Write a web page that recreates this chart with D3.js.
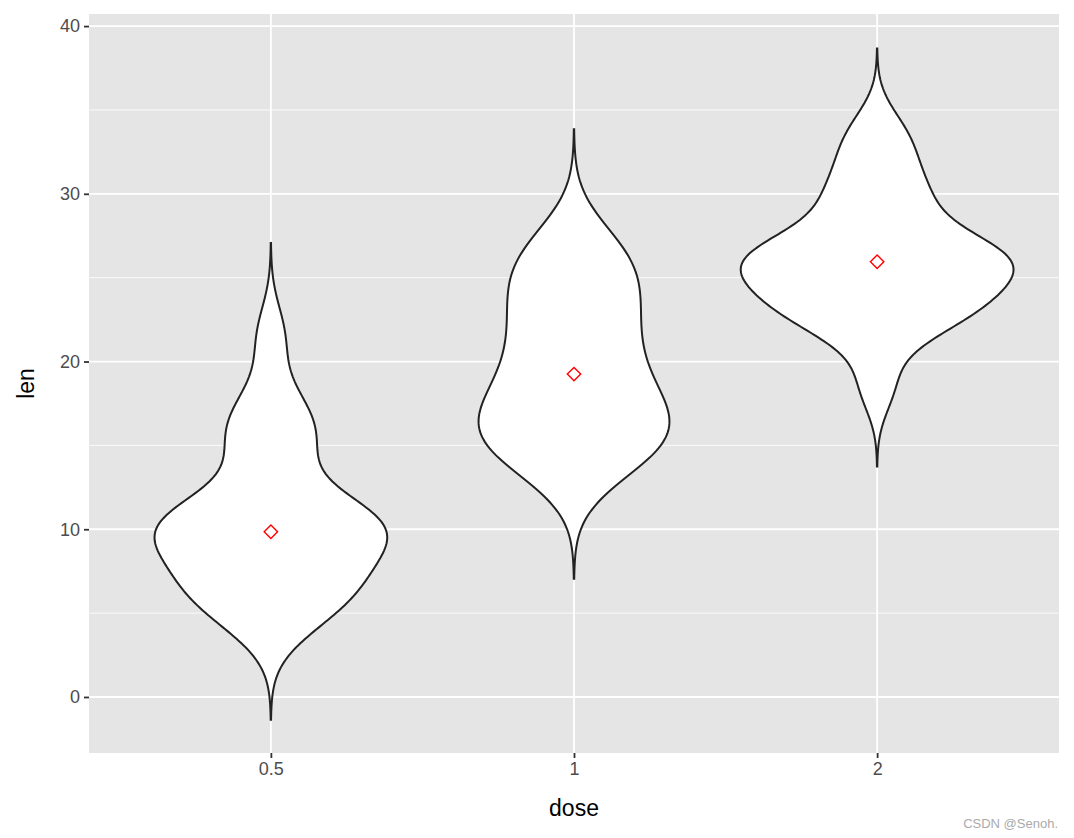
<!DOCTYPE html>
<html><head><meta charset="utf-8">
<script src="https://cdn.jsdelivr.net/npm/d3@7"></script>
<style>body{margin:0;background:#fff}</style>
</head><body><div id="chart"></div>
<script>
// ToothGrowth len values, grouped by dose
const doses = ["0.5", "1", "2"];
const len05 = [4.2, 11.5, 7.3, 5.8, 6.4, 10, 11.2, 11.2, 5.2, 7, 15.2, 21.5, 17.6, 9.7, 14.5, 10, 8.2, 9.4, 16.5, 9.7];
const len1 = [16.5, 16.5, 15.2, 17.3, 22.5, 17.3, 13.6, 14.5, 18.8, 15.5, 19.7, 23.3, 23.6, 26.4, 20, 25.2, 25.8, 21.2, 14.5, 27.3];
const len2 = [23.6, 18.5, 33.9, 25.5, 26.4, 32.5, 26.7, 21.5, 23.3, 29.5, 25.5, 26.4, 22.4, 24.5, 24.8, 30.9, 26.4, 27.3, 29.4, 23];
const yTicks = [0, 10, 20, 30, 40];

const svgWidth = 1074, svgHeight = 838;
const margin = {top: 14, right: 15, bottom: 85, left: 89};
const width = svgWidth - margin.left - margin.right;
const height = svgHeight - margin.top - margin.bottom;

const svg = d3.select("#chart").append("svg")
  .attr("width", svgWidth).attr("height", svgHeight)
  .style("font-family", "Liberation Sans, Arial, sans-serif");
const g = svg.append("g").attr("transform", `translate(${margin.left},${margin.top})`);

const x = d3.scalePoint().domain(doses).range([0, width]).padding(0.6);
const y = d3.scaleLinear().domain([-3.34, 40.72]).range([height, 0]);

// panel
g.append("rect").attr("width", width).attr("height", height).attr("fill", "#e5e5e5");
d3.range(-5, 41, 5).filter(v => v % 10 !== 0).forEach(v => {
  if (y(v) < 0 || y(v) > height) return;
  g.append("line").attr("x1", 0).attr("x2", width).attr("y1", y(v)).attr("y2", y(v))
    .attr("stroke", "#fff").attr("stroke-width", 0.8);
});
yTicks.forEach(v => g.append("line").attr("x1", 0).attr("x2", width).attr("y1", y(v)).attr("y2", y(v))
  .attr("stroke", "#fff").attr("stroke-width", 1.8));
doses.forEach(d => g.append("line").attr("x1", x(d)).attr("x2", x(d)).attr("y1", 0).attr("y2", height)
  .attr("stroke", "#fff").attr("stroke-width", 1.8));

// kernel density (gaussian, bw.nrd0, cut = 3)
function kde(vals) {
  const n = vals.length;
  const s = d3.sort(vals);
  const sd = d3.deviation(s);
  const iqr = d3.quantile(s, 0.75) - d3.quantile(s, 0.25);
  const bw = 0.9 * Math.min(sd, iqr / 1.34) * Math.pow(n, -0.2);
  const lo = d3.min(s) - 3 * bw, hi = d3.max(s) + 3 * bw;
  return d3.range(0, 201).map(i => {
    const t = lo + (hi - lo) * i / 200;
    const dens = d3.sum(s, v => Math.exp(-0.5 * ((t - v) / bw) ** 2)) / (n * bw * Math.sqrt(2 * Math.PI));
    return [t, dens];
  });
}
const groups = [len05, len1, len2];
const dens = groups.map(kde);
const maxD = d3.max(dens, d => d3.max(d, p => p[1]));
const halfW = x.step() * 0.45;
const w = d3.scaleLinear().domain([0, maxD]).range([0, halfW]);

dens.forEach((d, i) => {
  const cx = x(doses[i]);
  const pts = d.map(p => [cx + w(p[1]), y(p[0])]).concat(d.slice().reverse().map(p => [cx - w(p[1]), y(p[0])]));
  g.append("path").attr("d", d3.line()(pts) + "Z")
    .attr("fill", "#fff").attr("stroke", "#222").attr("stroke-width", 2);
  // median marker (open diamond)
  const med = d3.median(groups[i]);
  g.append("path").attr("d", d3.symbol(d3.symbolSquare, 90)())
    .attr("transform", `translate(${cx},${y(med)}) rotate(45)`)
    .attr("fill", "none").attr("stroke", "red").attr("stroke-width", 1.4);
});

// axes
const yAxis = g.append("g").call(d3.axisLeft(y).tickValues(yTicks).tickSize(5).tickPadding(4));
const xAxis = g.append("g").attr("transform", `translate(0,${height})`).call(d3.axisBottom(x).tickSize(5).tickPadding(4));
[xAxis, yAxis].forEach(a => {
  a.select(".domain").remove();
  a.selectAll("line").attr("stroke", "#333").attr("stroke-width", 1.8);
  a.selectAll("text").attr("fill", "#4d4d4d").style("font-size", "18px").style("font-family", "Liberation Sans, Arial, sans-serif");
});

svg.append("text").attr("x", margin.left + width / 2).attr("y", 816).attr("text-anchor", "middle")
  .style("font-size", "23px").text("dose");
svg.append("text").attr("transform", `translate(34,${margin.top + height / 2}) rotate(-90)`)
  .attr("text-anchor", "middle").style("font-size", "23px").text("len");
svg.append("text").attr("x", 1058).attr("y", 828).attr("text-anchor", "end")
  .attr("fill", "#aaa").style("font-size", "13px").text("CSDN @Senoh.");
</script></body></html>
